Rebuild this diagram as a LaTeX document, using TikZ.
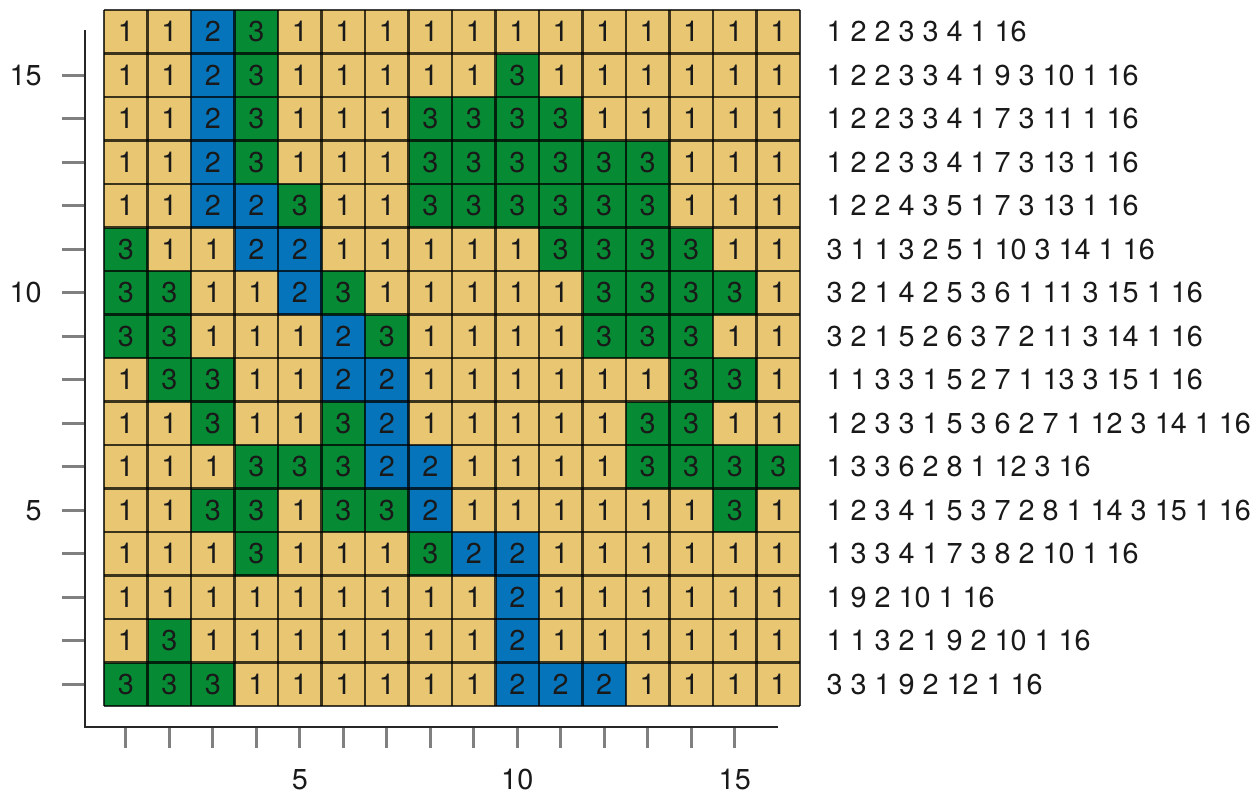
\documentclass[tikz,border=0pt]{standalone}
\usepackage{fontspec}
\setmainfont{TeX Gyre Heros}
\definecolor{sandcol}{RGB}{232,198,114}
\definecolor{bluecol}{RGB}{6,116,186}
\definecolor{greencol}{RGB}{6,138,52}
\tikzset{
  val1/.style={fill=sandcol},
  val2/.style={fill=bluecol},
  val3/.style={fill=greencol},
  gridline/.style={line width=1.4pt, black, opacity=0.74},
  axisline/.style={line width=1pt, black!85},
  tickline/.style={line width=1.4pt, black!50},
  cellnum/.style={font=\fontsize{14.4}{16}\selectfont, text=black!90, inner sep=0pt},
  runtext/.style={anchor=west, inner sep=0pt, font=\fontsize{14.4}{16}\selectfont, text=black!90},
}
\begin{document}
\begin{tikzpicture}[x=21.75pt,y=21.75pt]
			\useasboundingbox (-2.391,-2.046) rectangle (26.506,16.230);
			% cells, row by row, with the run code of each row
			\foreach \r/\vals/\code in {
				16/{1,1,2,3,1,1,1,1,1,1,1,1,1,1,1,1}/{1 2 2 3 3 4 1 16},
				15/{1,1,2,3,1,1,1,1,1,3,1,1,1,1,1,1}/{1 2 2 3 3 4 1 9 3 10 1 16},
				14/{1,1,2,3,1,1,1,3,3,3,3,1,1,1,1,1}/{1 2 2 3 3 4 1 7 3 11 1 16},
				13/{1,1,2,3,1,1,1,3,3,3,3,3,3,1,1,1}/{1 2 2 3 3 4 1 7 3 13 1 16},
				12/{1,1,2,2,3,1,1,3,3,3,3,3,3,1,1,1}/{1 2 2 4 3 5 1 7 3 13 1 16},
				11/{3,1,1,2,2,1,1,1,1,1,3,3,3,3,1,1}/{3 1 1 3 2 5 1 10 3 14 1 16},
				10/{3,3,1,1,2,3,1,1,1,1,1,3,3,3,3,1}/{3 2 1 4 2 5 3 6 1 11 3 15 1 16},
				9/{3,3,1,1,1,2,3,1,1,1,1,3,3,3,1,1}/{3 2 1 5 2 6 3 7 2 11 3 14 1 16},
				8/{1,3,3,1,1,2,2,1,1,1,1,1,1,3,3,1}/{1 1 3 3 1 5 2 7 1 13 3 15 1 16},
				7/{1,1,3,1,1,3,2,1,1,1,1,1,3,3,1,1}/{1 2 3 3 1 5 3 6 2 7 1 12 3 14 1 16},
				6/{1,1,1,3,3,3,2,2,1,1,1,1,3,3,3,3}/{1 3 3 6 2 8 1 12 3 16},
				5/{1,1,3,3,1,3,3,2,1,1,1,1,1,1,3,1}/{1 2 3 4 1 5 3 7 2 8 1 14 3 15 1 16},
				4/{1,1,1,3,1,1,1,3,2,2,1,1,1,1,1,1}/{1 3 3 4 1 7 3 8 2 10 1 16},
				3/{1,1,1,1,1,1,1,1,1,2,1,1,1,1,1,1}/{1 9 2 10 1 16},
				2/{1,3,1,1,1,1,1,1,1,2,1,1,1,1,1,1}/{1 1 3 2 1 9 2 10 1 16},
				1/{3,3,3,1,1,1,1,1,1,2,2,2,1,1,1,1}/{3 3 1 9 2 12 1 16}} {
				\foreach \v [count=\c] in \vals {
					\fill[val\v] (\c-1,\r-1) rectangle (\c,\r);
					\node[cellnum] (c\c-\r) at (\c-0.5,\r-0.5) {\v};
				}
				\node[runtext] (run\r) at (16.6,\r-0.5) {\code};
			}
			\foreach \i in {0,...,16} {
				\draw[gridline] (\i,0) -- (\i,16);
				\draw[gridline] (0,\i) -- (16,\i);
			}
			% axes
			\draw[axisline] (-0.437,15.54) -- (-0.437,-0.483) -- (15.49,-0.483);
			\foreach \i in {1,...,15} {
				\draw[tickline] (\i-0.5,-0.51) -- (\i-0.5,-0.966);
				\draw[tickline] (-0.966,\i-0.5) -- (-0.45,\i-0.5);
			}
			\foreach \i in {5,10,15} {
				\node[cellnum] (xl\i) at (\i-0.5,-1.70) {\i};
				\node[cellnum, anchor=east] (yl\i) at (-1.425,\i-0.5) {\i};
			}
		\end{tikzpicture}
\end{document}
